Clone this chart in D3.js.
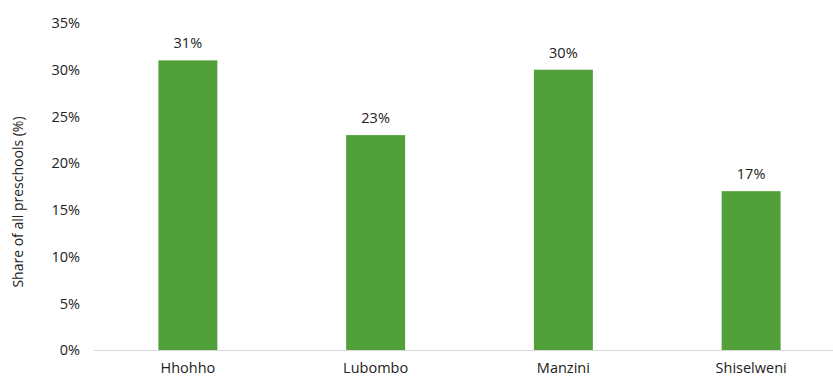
<!DOCTYPE html>
<html>
<head>
<meta charset="utf-8">
<script src="https://cdn.jsdelivr.net/npm/d3@7"></script>
<style>
  body { margin: 0; background: #fff; }
  text { font-family: "Open Sans", "Noto Sans", sans-serif; fill: #222; }
</style>
</head>
<body>
<svg id="chart"></svg>
<script>
// chart size
const width = 833;
const height = 378;

// data
const regions = ["Hhohho", "Lubombo", "Manzini", "Shiselweni"];
const shares = [31, 23, 30, 17];
const yTicks = [0, 5, 10, 15, 20, 25, 30, 35];

const svg = d3.select("svg#chart").attr("width", width).attr("height", height);

const x = d3.scaleBand()
    .domain(regions)
    .range([94, 845])
    .paddingInner(0.686)
    .paddingOuter(0.343);

const y = d3.scaleLinear()
    .domain([0, 35])
    .range([350, 23]);

// y tick labels (no gridlines)
svg.selectAll(".ytick")
    .data(yTicks)
    .enter().append("text")
    .attr("class", "ytick")
    .attr("x", 80)
    .attr("y", d => y(d))
    .attr("dy", "0.36em")
    .attr("text-anchor", "end")
    .style("font-size", "14.5px")
    .text(d => d + "%");

// y axis title
svg.append("text")
    .attr("transform", "translate(23," + 202 + ") rotate(-90)")
    .attr("text-anchor", "middle")
    .style("font-size", "14px")
    .text("Share of all preschools (%)");

// bars
svg.selectAll(".bar")
    .data(regions)
    .enter().append("rect")
    .attr("class", "bar")
    .attr("x", d => x(d))
    .attr("y", (d, i) => y(shares[i]))
    .attr("width", x.bandwidth())
    .attr("height", (d, i) => y(0) - y(shares[i]))
    .attr("fill", "#52a03a");

// value labels
svg.selectAll(".val")
    .data(regions)
    .enter().append("text")
    .attr("class", "val")
    .attr("x", d => x(d) + x.bandwidth() / 2)
    .attr("y", (d, i) => y(shares[i]) - 12)
    .attr("text-anchor", "middle")
    .style("font-size", "14.5px")
    .text((d, i) => shares[i] + "%");

// x axis line
svg.append("line")
    .attr("x1", 94).attr("x2", width)
    .attr("y1", y(0) + 0.5).attr("y2", y(0) + 0.5)
    .attr("stroke", "#d9d9d9")
    .attr("stroke-width", 1);

// category labels
svg.selectAll(".cat")
    .data(regions)
    .enter().append("text")
    .attr("class", "cat")
    .attr("x", d => x(d) + x.bandwidth() / 2)
    .attr("y", 373)
    .attr("text-anchor", "middle")
    .style("font-size", "14.5px")
    .text(d => d);
</script>
</body>
</html>
